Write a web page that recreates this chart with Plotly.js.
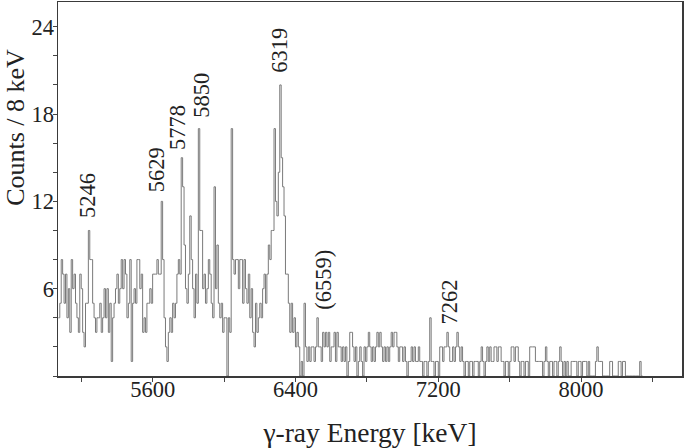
<!DOCTYPE html>
<html>
<head>
<meta charset="utf-8">
<script src="https://cdn.plot.ly/plotly-3.0.1.min.js"></script>
<style>
  html, body { margin: 0; padding: 0; background: #fff; }
  #spectrum { width: 685px; height: 448px; }
</style>
</head>
<body>
<div id="spectrum"></div>
<script>
// histogram: 8 keV bins starting at 5072 keV
const binStart = 5072;
const binWidth = 8;
const counts = [
  4,5,8,7,5, 7,4,6,3,8, 6,7,5,4,3, 7,6,3,2,5, 5,10,8,8,5,
  4,3,4,4,5, 3,4,6,4,6, 3,5,1,4,5, 6,7,5,6,8, 6,8,7,4,5,
  8,1,5,6,5, 8,8,6,7,3, 4,3,5,5,6, 5,7,7,7,8, 7,7,12,8,4,
  2,1,3,4,3, 5,4,5,7,8, 7,15,13,9,6, 5,7,11,8,6, 4,7,5,17,10,
  10,6,7,5,6, 8,7,5,4,13, 6,9,5,4,5, 3,4,4,0,4, 3,17,8,7,8,
  8,6,8,8,5, 8,6,5,7,4, 6,3,2,5,3, 4,5,4,6,7, 5,7,9,8,10,
  10,17,12,11,14, 20,15,13,11,7, 7,5,3,5,3, 4,2,3,2,0, 1,0,5,2,1,
  2,1,2,2,1, 2,4,2,2,1, 3,2,3,2,3, 1,2,2,3,1, 3,2,2,1,2,
  1,2,0,1,3, 3,2,1,2,0, 1,2,1,0,2, 1,2,3,2,1, 2,1,2,3,2,
  3,2,1,2,1, 2,1,2,3,2, 3,3,2,1,2, 2,1,2,1,0, 1,1,2,1,2,
  1,1,2,1,1, 0,1,1,0,1, 4,1,1,0,1, 1,0,2,2,1, 2,2,3,2,1,
  1,2,1,2,3, 2,1,2,1,0, 1,1,0,1,1, 0,1,1,1,0, 1,2,1,0,1,
  2,1,2,1,1, 2,2,1,2,2, 1,1,0,1,1, 0,1,2,2,1, 2,2,1,0,1,
  1,0,1,1,0, 2,2,2,2,1, 1,1,1,1,0, 1,2,1,0,1, 1,0,1,1,0,
  1,2,1,0,1, 0,1,0,0,1, 1,1,1,0,1, 1,0,1,1,1, 0,1,0,0,0,
  0,1,2,1,1, 1,0,0,0,0, 0,1,1,0,0, 0,0,1,1,0, 1,1,0,0,0,
  0,0,0,0,0, 0,0,1,0
];

// peak labels (text, energy position, height in counts)
const peakLabels = ['5246', '5629', '5778', '5850', '6319', '(6559)', '7262'];
const peakLabelE = [5235, 5620, 5739, 5869, 6306, 6557, 7264];
const peakLabelY = [12.4, 14.15, 17.07, 19.3, 22.4, 6.65, 5.1];

const yTicks = [6, 12, 18, 24];

const serif = 'Liberation Serif, Times New Roman, serif';
const ink = '#222';

const edges = counts.map((_, i) => binStart + i * binWidth);
edges.push(binStart + counts.length * binWidth);
const stepY = counts.concat([counts[counts.length - 1]]);

const traceHist = {
  x: edges,
  y: stepY,
  mode: 'lines',
  line: { color: '#7a7a7a', width: 1, shape: 'hv' },
  hoverinfo: 'skip'
};

const annotations = peakLabels.map((t, i) => ({
  x: peakLabelE[i],
  y: peakLabelY[i],
  xref: 'x', yref: 'y',
  text: t,
  textangle: -90,
  showarrow: false,
  xanchor: 'center', yanchor: 'middle',
  font: { family: serif, size: 22.5, color: ink }
}));

// y title sits in the upper part of the axis, so it is placed by hand
annotations.push({
  xref: 'paper', yref: 'paper',
  x: -0.068, y: 0.665,
  text: 'Counts / 8 keV',
  textangle: -90,
  showarrow: false,
  xanchor: 'center', yanchor: 'middle',
  font: { family: serif, size: 26, color: ink }
});

const layout = {
  width: 685,
  height: 448,
  margin: { t: 2, b: 72, l: 58, r: 3 },
  paper_bgcolor: '#fff',
  plot_bgcolor: '#fff',
  showlegend: false,
  xaxis: {
    range: [5070, 8565],
    tickmode: 'linear', tick0: 5600, dtick: 800,
    ticks: 'outside', ticklen: 4, tickcolor: '#444',
    minor: { tickmode: 'linear', tick0: 5200, dtick: 400, ticks: 'outside', ticklen: 4, tickcolor: '#444' },
    ticklabelstandoff: -12,
    showgrid: false, zeroline: false,
    showline: true, mirror: true, linecolor: '#3a3a3a', linewidth: 1.5,
    tickfont: { family: serif, size: 22.5, color: ink },
    title: { text: 'γ-ray Energy [keV]', standoff: 23, font: { family: serif, size: 27.5, color: ink } }
  },
  yaxis: {
    range: [0, 25.7],
    tickmode: 'array', tickvals: yTicks, ticktext: yTicks.map(String),
    ticks: 'outside', ticklen: 4, tickcolor: '#444',
    minor: { tickmode: 'linear', tick0: 0, dtick: 2, ticks: 'outside', ticklen: 4, tickcolor: '#444' },
    ticklabelstandoff: -6,
    showgrid: false, zeroline: false,
    showline: true, mirror: true, linecolor: '#3a3a3a', linewidth: 1.5,
    tickfont: { family: serif, size: 22.5, color: ink }
  },
  annotations: annotations
};

Plotly.newPlot('spectrum', [traceHist], layout, { displayModeBar: false, staticPlot: true });
</script>
</body>
</html>
